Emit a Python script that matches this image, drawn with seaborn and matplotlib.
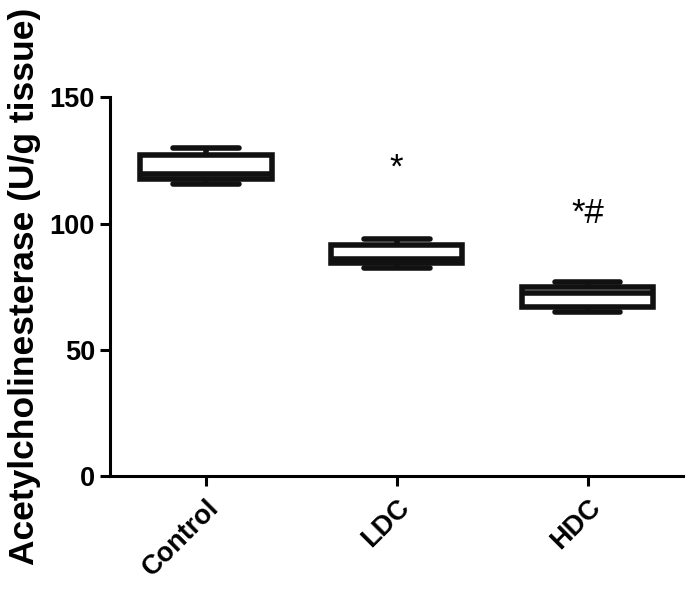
import pandas as pd
import seaborn as sns
import matplotlib.pyplot as plt

sns.set_style("ticks")
plt.rcParams["font.family"] = ["Liberation Sans", "DejaVu Sans"]
plt.rcParams["font.weight"] = "bold"
plt.rcParams["text.color"] = "black"
plt.rcParams["axes.edgecolor"] = "black"
plt.rcParams["xtick.color"] = "black"
plt.rcParams["ytick.color"] = "black"
plt.rcParams["axes.labelcolor"] = "black"

# five-number summaries (min, q1, median, q3, max)
groups = ["Control", "LDC", "HDC"]
control = [115.5, 117.5, 119.5, 127.0, 130.0]
ldc = [82.5, 84.5, 86.0, 91.5, 94.0]
hdc = [65.0, 67.0, 72.5, 75.0, 77.0]
marks = ["", "*", "*#"]
mark_y = [0, 122, 104]

df = pd.DataFrame({
    "group": ["Control"] * len(control) + ["LDC"] * len(ldc) + ["HDC"] * len(hdc),
    "value": control + ldc + hdc,
})

fig = plt.figure(figsize=(6.85, 5.93), dpi=100)
ax = fig.add_axes([0.161, 0.197, 0.836, 0.639])

sns.boxplot(
    data=df, x="group", y="value", order=groups, ax=ax,
    whis=(0, 100), width=0.69, color="white", linecolor="#111111",
    linewidth=4, fliersize=0,
)

for i, (m, y) in enumerate(zip(marks, mark_y)):
    if m:
        ax.text(i, y, m, ha="center", va="center", fontsize=25, fontweight="normal")

ax.set_xlim(-0.5, 2.5)
ax.set_ylim(0, 150)
ax.set_yticks([0, 50, 100, 150])
ax.set_xlabel("")
ax.set_ylabel("Acetylcholinesterase (U/g tissue)", fontsize=25.5, fontweight="bold", labelpad=6)
sns.despine(ax=ax)
for s in ["left", "bottom"]:
    ax.spines[s].set_linewidth(2.2)
ax.tick_params(axis="both", length=7, width=2.2, labelsize=19.5, pad=4)
ax.tick_params(axis="x", pad=6)
plt.setp(ax.get_xticklabels(), rotation=45, ha="right", rotation_mode="anchor")

fig.savefig("out.png", dpi=100)
